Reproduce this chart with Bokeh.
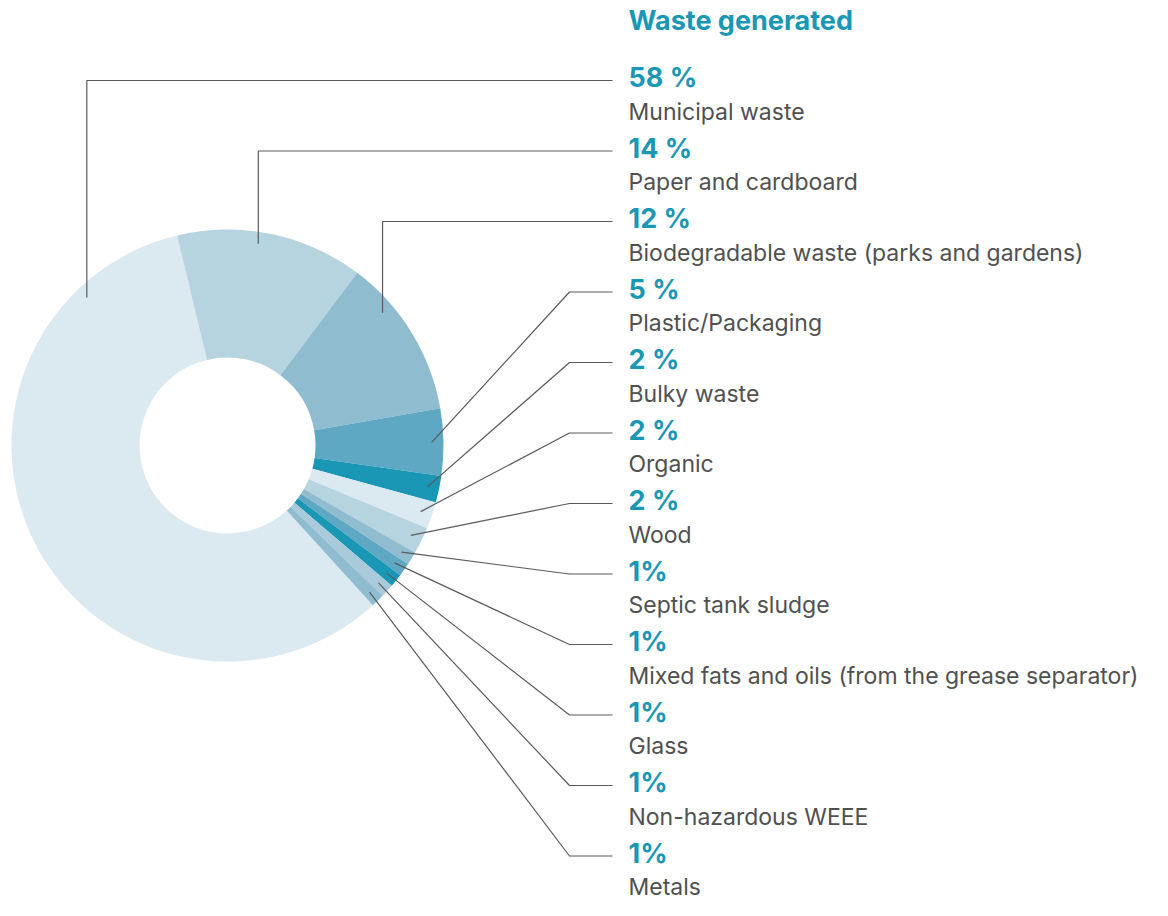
import numpy as np
from bokeh.plotting import figure
from bokeh.models import Range1d
from bokeh.core.properties import value
from bokeh.embed import file_html
from bokeh.resources import INLINE

title = "Waste generated"
categories = ["Municipal waste", "Paper and cardboard", "Biodegradable waste (parks and gardens)",
              "Plastic/Packaging", "Bulky waste", "Organic", "Wood", "Septic tank sludge",
              "Mixed fats and oils (from the grease separator)", "Glass", "Non-hazardous WEEE", "Metals"]
values = [58, 14, 12, 5, 2, 2, 2, 1, 1, 1, 1, 1]
pct_labels = ["58 %", "14 %", "12 %", "5 %", "2 %", "2 %", "2 %", "1%", "1%", "1%", "1%", "1%"]
colors = ["#dbe9f1", "#b6d3e0", "#90bcd0", "#5fa8c3", "#1a97b4", "#dbe9f1", "#b6d3e0",
          "#90bcd0", "#5fa8c3", "#1a97b4", "#a8cadb", "#90bcd0"]
# where inside each slice the leader line starts (fraction of slice sweep)
anchor_frac = [0.856, 0.44, 0.29, 0.5, 0.5, 0.5, 0.5, 0.5, 0.5, 0.5, 0.5, 0.5]
elbow_vertical = [True, True, True] + [False] * 9

W, H = 1152, 900
p = figure(width=W, height=H, output_backend="svg", toolbar_location=None,
           x_range=Range1d(0, W), y_range=Range1d(-H, 0), min_border=0)
p.axis.visible = False
p.grid.visible = False
p.outline_line_color = None

cx, cy = 227.0, -445.0
R_out, R_in = 216.0, 88.0
start_deg = -13.5  # clockwise from top, where slice order starts (Paper)

# order: paper ... metals, then municipal
order = list(range(1, len(values))) + [0]
total = float(sum(values))
theta = start_deg
starts, ends = {}, {}
for i in order:
    sweep = values[i] / total * 360.0
    starts[i] = theta
    ends[i] = theta + sweep
    theta += sweep

sa = [np.deg2rad(90 - starts[i]) for i in range(len(values))]
ea = [np.deg2rad(90 - ends[i]) for i in range(len(values))]
p.annular_wedge(x=cx, y=cy, inner_radius=R_in, outer_radius=R_out,
                start_angle=sa, end_angle=ea, direction="clock",
                fill_color=colors, line_color=None)

text_x = 628
line_end = 612
elbow_x = 569
L0, step = 80.0, 70.5
r_anchor = 0.945 * R_out
for i in range(len(values)):
    ly = -(L0 + i * step)
    a = starts[i] + anchor_frac[i] * (ends[i] - starts[i])
    ax = cx + r_anchor * np.sin(np.deg2rad(a))
    ay = cy + r_anchor * np.cos(np.deg2rad(a))
    if elbow_vertical[i]:
        xs = [ax, ax, line_end]
    else:
        xs = [ax, elbow_x, line_end]
    ys = [ay, ly, ly]
    p.line(xs, ys, line_color="#5a5a5a", line_width=1.2)

pct_y = [-(L0 - 3 + i * step) for i in range(len(values))]
name_y = [-(L0 + 31 + i * step) for i in range(len(values))]
p.text(x=[text_x] * len(values), y=pct_y, text=pct_labels, text_font=value("Inter"),
       text_font_style="bold", text_font_size="27px", text_color="#1a97b4",
       text_baseline="middle", text_align="left")
p.text(x=[text_x] * len(values), y=name_y, text=categories, text_font=value("Inter"),
       text_font_size="23px", text_color="#505050",
       text_baseline="middle", text_align="left")
p.text(x=[text_x], y=[-20], text=[title], text_font=value("Inter"),
       text_font_style="bold", text_font_size="27px", text_color="#1a97b4",
       text_baseline="middle", text_align="left")

open("out.html", "w").write(file_html(p, INLINE))
